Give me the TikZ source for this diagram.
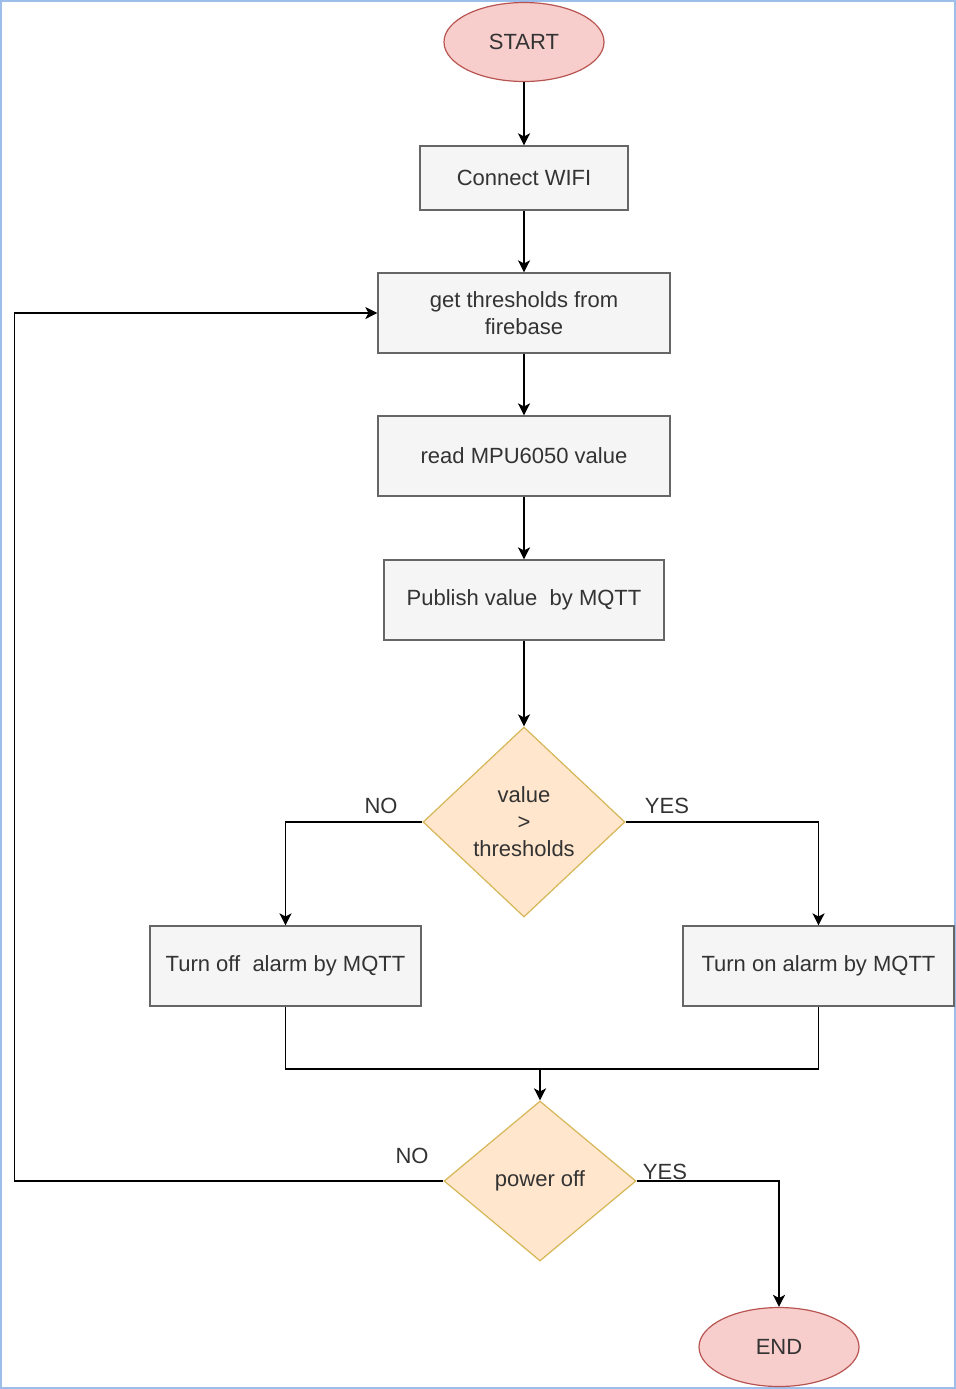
\documentclass[tikz,border=0pt]{standalone}
\usepackage{fontspec}
\setmainfont{Liberation Sans}
\usepackage{tikz}
\usetikzlibrary{shapes.geometric,arrows.meta,positioning}
\definecolor{termfill}{HTML}{F8CECC}
\definecolor{termdraw}{HTML}{B85450}
\definecolor{procfill}{HTML}{F5F5F5}
\definecolor{procdraw}{HTML}{666666}
\definecolor{decfill}{HTML}{FFE6CC}
\definecolor{decdraw}{HTML}{D6B656}
\definecolor{txt}{HTML}{333333}
\definecolor{framecol}{HTML}{9DBDEA}

\begin{document}
\begin{tikzpicture}[
	x=0.5pt, y=-0.5pt,
	font=\fontsize{11}{13.5}\selectfont,
	startstop/.style={ellipse, draw=termdraw, fill=termfill, line width=0.6pt, text=txt, minimum width=80pt, minimum height=39.5pt, inner sep=0pt},
	process/.style={rectangle, draw=procdraw, fill=procfill, line width=0.6pt, text=txt, align=center, inner sep=0pt},
	decision/.style={diamond, draw=decdraw, fill=decfill, line width=0.6pt, text=txt, align=center, inner sep=0pt},
	arrow/.style={line width=0.75pt, -{Stealth[length=6pt,width=6pt,inset=1.5pt]}},
	line/.style={line width=0.75pt},
	lbl/.style={text=txt, inner sep=1pt}
	]
	% page and frame
	\useasboundingbox (0,0) rectangle (956,1389);
	\draw[framecol, line width=1pt] (1,1) rectangle (955,1388);

	% nodes
	\node[startstop] (start) at (524,42) {START};
	\node[process, minimum width=104pt, minimum height=32pt] (wifi) at (524,178) {Connect WIFI};
	\node[process, minimum width=146pt, minimum height=40pt] (getth) at (524,313) {get thresholds from\\firebase};
	\node[process, minimum width=146pt, minimum height=40pt] (readmpu) at (524,456) {read MPU6050 value};
	\node[process, minimum width=140pt, minimum height=40pt] (publish) at (524,600) {Publish value\ \ by MQTT};
	\node[decision, minimum width=101pt, minimum height=95pt] (checkth) at (524,822) {value\\>\\thresholds};
	\node[process, minimum width=135.5pt, minimum height=40pt] (alarmoff) at (285.5,966) {Turn off\ \ alarm by MQTT};
	\node[process, minimum width=135.5pt, minimum height=40pt] (alarmon) at (818.5,966) {Turn on alarm by MQTT};
	\node[decision, minimum width=96pt, minimum height=80pt] (power) at (540,1181) {power off};
	\node[startstop] (stop) at (779,1347) {END};
	\coordinate (merge) at (540,1069);

	% connectors
	\draw[arrow] (start) -- (wifi);
	\draw[arrow] (wifi) -- (getth);
	\draw[arrow] (getth) -- (readmpu);
	\draw[arrow] (readmpu) -- (publish);
	\draw[arrow] (publish) -- (checkth);
	\draw[arrow] (checkth.west) -| (alarmoff.north);
	\draw[arrow] (checkth.east) -| (alarmon.north);
	\draw[line] (alarmoff.south) |- (merge) -| (alarmon.south);
	\draw[arrow] (merge) -- (power.north);
	\draw[arrow] (power.west) -- ++(-429,0) |- (getth.west);
	\draw[arrow] (power.east) -| (stop.north);

	% labels
	\node[lbl] (no1) at (381,806) {NO};
	\node[lbl] (yes1) at (667,806) {YES};
	\node[lbl] (no2) at (412,1156) {NO};
	\node[lbl] (yes2) at (665,1172) {YES};
\end{tikzpicture}
\end{document}
